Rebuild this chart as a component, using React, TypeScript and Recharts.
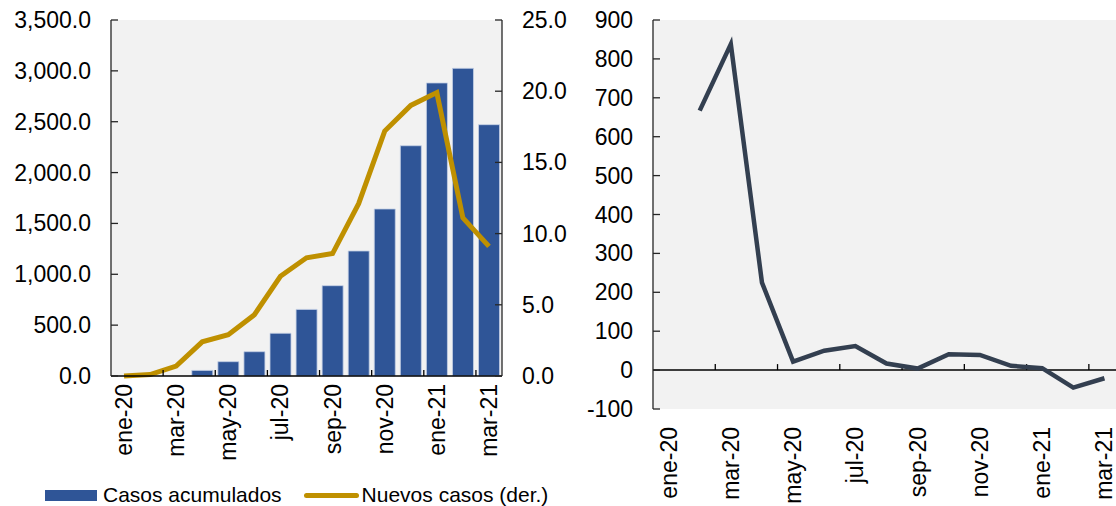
import {
  Bar,
  CartesianGrid,
  ComposedChart,
  Legend,
  Line,
  ReferenceLine,
  XAxis,
  YAxis,
} from "recharts";

const MONTHS = [
  "ene-20", "feb-20", "mar-20", "abr-20", "may-20", "jun-20", "jul-20", "ago-20",
  "sep-20", "oct-20", "nov-20", "dic-20", "ene-21", "feb-21", "mar-21",
];
// only every other month carries a label
const LABELED = ["ene-20", "mar-20", "may-20", "jul-20", "sep-20", "nov-20", "ene-21", "mar-21"];

const CUMULATIVE = [null, null, null, 55, 141, 239, 420, 655, 888, 1229, 1642, 2264, 2881, 3025, 2471];
const NEW_CASES = [0.0, 0.1, 0.7, 2.4, 2.9, 4.3, 7.0, 8.3, 8.6, 12.1, 17.2, 19.0, 19.9, 11.1, 9.1];
const CHANGE = [null, 667, 838, 225, 22, 50, 62, 17, 4, 41, 39, 11, 5, -45, -21];

const LEFT_TICKS = [0, 500, 1000, 1500, 2000, 2500, 3000, 3500];
const RIGHT_TICKS = [0, 5, 10, 15, 20, 25];
const CHANGE_TICKS = [-100, 0, 100, 200, 300, 400, 500, 600, 700, 800, 900];

const BLUE = "#2f5597";
const GOLD = "#bf9000";
const SLATE = "#333f50";
const PANEL = "#f2f2f2";
const AXIS = "#262626";
const FONT = "'Liberation Sans', Arial, sans-serif";
const TICK_MARGIN = 20;
const X_MARGIN = 8;

const casesData = MONTHS.map((month, i) => ({
  month,
  cumulative: CUMULATIVE[i],
  newCases: NEW_CASES[i],
}));
const changeData = MONTHS.map((month, i) => ({ month, change: CHANGE[i] }));

function ValueTick(props: any) {
  const { x, y, payload, side, format } = props;
  const axisX = side === "left" ? x + TICK_MARGIN : x - TICK_MARGIN;
  const inner = side === "left" ? axisX + 7 : axisX - 7;
  return (
    <g>
      <line x1={axisX} x2={inner} y1={y} y2={y} stroke={AXIS} strokeWidth={1.3} />
      <text
        x={x}
        y={y}
        dy="0.35em"
        textAnchor={side === "left" ? "end" : "start"}
        fontSize={23}
        fontFamily={FONT}
        fill="#000"
      >
        {format(payload.value)}
      </text>
    </g>
  );
}

function MonthTick(props: any) {
  const { x, y, payload, band, marks } = props;
  if (!LABELED.includes(payload.value)) return null;
  const axisY = y - X_MARGIN;
  const edge = x - band / 2;
  return (
    <g>
      {marks && payload.index > 0 ? (
        <line x1={edge} x2={edge} y1={axisY} y2={axisY - 6} stroke="#000" strokeWidth={1.3} />
      ) : null}
      <text
        x={x}
        y={y}
        dy="0.35em"
        transform={`rotate(-90, ${x}, ${y})`}
        textAnchor="end"
        fontSize={23}
        fontFamily={FONT}
        fill="#000"
      >
        {payload.value}
      </text>
    </g>
  );
}

function ZeroAxis(props: any) {
  const { x1, x2, y1 } = props;
  const band = (x2 - x1) / MONTHS.length;
  return (
    <g>
      <line x1={x1} x2={x2} y1={y1} y2={y1} stroke="#000" strokeWidth={1.5} />
      {MONTHS.map((m, i) =>
        i > 0 && i % 2 === 0 ? (
          <line key={m} x1={x1 + band * i} x2={x1 + band * i} y1={y1} y2={y1 - 6} stroke="#000" strokeWidth={1.3} />
        ) : null,
      )}
    </g>
  );
}

function CasesLegend() {
  return (
    <div
      style={{
        display: "flex",
        alignItems: "center",
        paddingLeft: 45,
        paddingTop: 17,
        fontFamily: FONT,
        fontSize: 21,
        color: "#000",
        lineHeight: "24px",
      }}
    >
      <span style={{ width: 52, height: 11, background: BLUE, display: "inline-block" }} />
      <span style={{ marginLeft: 6 }}>Casos acumulados</span>
      <span
        style={{ width: 55, height: 5, background: GOLD, borderRadius: 3, display: "inline-block", marginLeft: 22 }}
      />
      <span style={{ marginLeft: 3 }}>Nuevos casos (der.)</span>
    </div>
  );
}

const fmtThousands = (v: number) =>
  v.toLocaleString("en-US", { minimumFractionDigits: 1, maximumFractionDigits: 1 });
const fmtOne = (v: number) => v.toFixed(1);
const fmtInt = (v: number) => String(v);

const LEFT_W = 590;
const LEFT_PLOT = 391;
const RIGHT_W = 560;
const RIGHT_PLOT = 467;

export default function App() {
  return (
    <div
      style={{
        position: "absolute",
        left: 0,
        top: 0,
        width: 1116,
        height: 506,
        overflow: "hidden",
        background: "#fff",
      }}
    >
      <div style={{ position: "absolute", left: 0, top: 0 }}>
        <ComposedChart
          width={LEFT_W}
          height={506}
          data={casesData}
          margin={{ top: 20, right: 0, bottom: 0, left: 0 }}
          barCategoryGap="10%"
        >
          <CartesianGrid horizontal={false} vertical={false} fill={PANEL} stroke="none" />
          <XAxis
            dataKey="month"
            scale="band"
            interval={0}
            height={90}
            tickSize={0}
            tickMargin={X_MARGIN}
            tickLine={false}
            axisLine={{ stroke: "#000", strokeWidth: 1.5 }}
            tick={<MonthTick band={LEFT_PLOT / MONTHS.length} marks />}
          />
          <YAxis
            yAxisId="left"
            width={111}
            domain={[0, 3500]}
            ticks={LEFT_TICKS}
            interval={0}
            tickSize={0}
            tickMargin={TICK_MARGIN}
            tickLine={false}
            axisLine={{ stroke: AXIS, strokeWidth: 1.3 }}
            tick={<ValueTick side="left" format={fmtThousands} />}
          />
          <YAxis
            yAxisId="right"
            orientation="right"
            width={LEFT_W - 111 - LEFT_PLOT}
            domain={[0, 25]}
            ticks={RIGHT_TICKS}
            interval={0}
            tickSize={0}
            tickMargin={TICK_MARGIN}
            tickLine={false}
            axisLine={{ stroke: AXIS, strokeWidth: 1.3 }}
            tick={<ValueTick side="right" format={fmtOne} />}
          />
          <Legend verticalAlign="bottom" height={40} content={() => <CasesLegend />} />
          <Bar
            yAxisId="left"
            dataKey="cumulative"
            name="Casos acumulados"
            fill={BLUE}
            stroke="#c5d0e6"
            strokeWidth={0.8}
            isAnimationActive={false}
          />
          <Line
            yAxisId="right"
            dataKey="newCases"
            name="Nuevos casos (der.)"
            stroke={GOLD}
            strokeWidth={5}
            dot={false}
            activeDot={false}
            isAnimationActive={false}
          />
        </ComposedChart>
      </div>

      <div style={{ position: "absolute", left: 560, top: 0 }}>
        <ComposedChart
          width={RIGHT_W}
          height={506}
          data={changeData}
          margin={{ top: 20, right: 0, bottom: 0, left: 0 }}
        >
          <CartesianGrid horizontal={false} vertical={false} fill={PANEL} stroke="none" />
          <XAxis
            dataKey="month"
            scale="band"
            interval={0}
            height={97}
            tickSize={0}
            tickMargin={18}
            tickLine={false}
            axisLine={false}
            tick={<MonthTick band={RIGHT_PLOT / MONTHS.length} />}
          />
          <YAxis
            width={93}
            domain={[-100, 900]}
            ticks={CHANGE_TICKS}
            interval={0}
            tickSize={0}
            tickMargin={TICK_MARGIN}
            tickLine={false}
            axisLine={{ stroke: AXIS, strokeWidth: 1.3 }}
            tick={<ValueTick side="left" format={fmtInt} />}
          />
          <ReferenceLine y={0} shape={<ZeroAxis />} />
          <Line
            dataKey="change"
            stroke={SLATE}
            strokeWidth={4.5}
            dot={false}
            activeDot={false}
            isAnimationActive={false}
          />
        </ComposedChart>
      </div>
    </div>
  );
}
